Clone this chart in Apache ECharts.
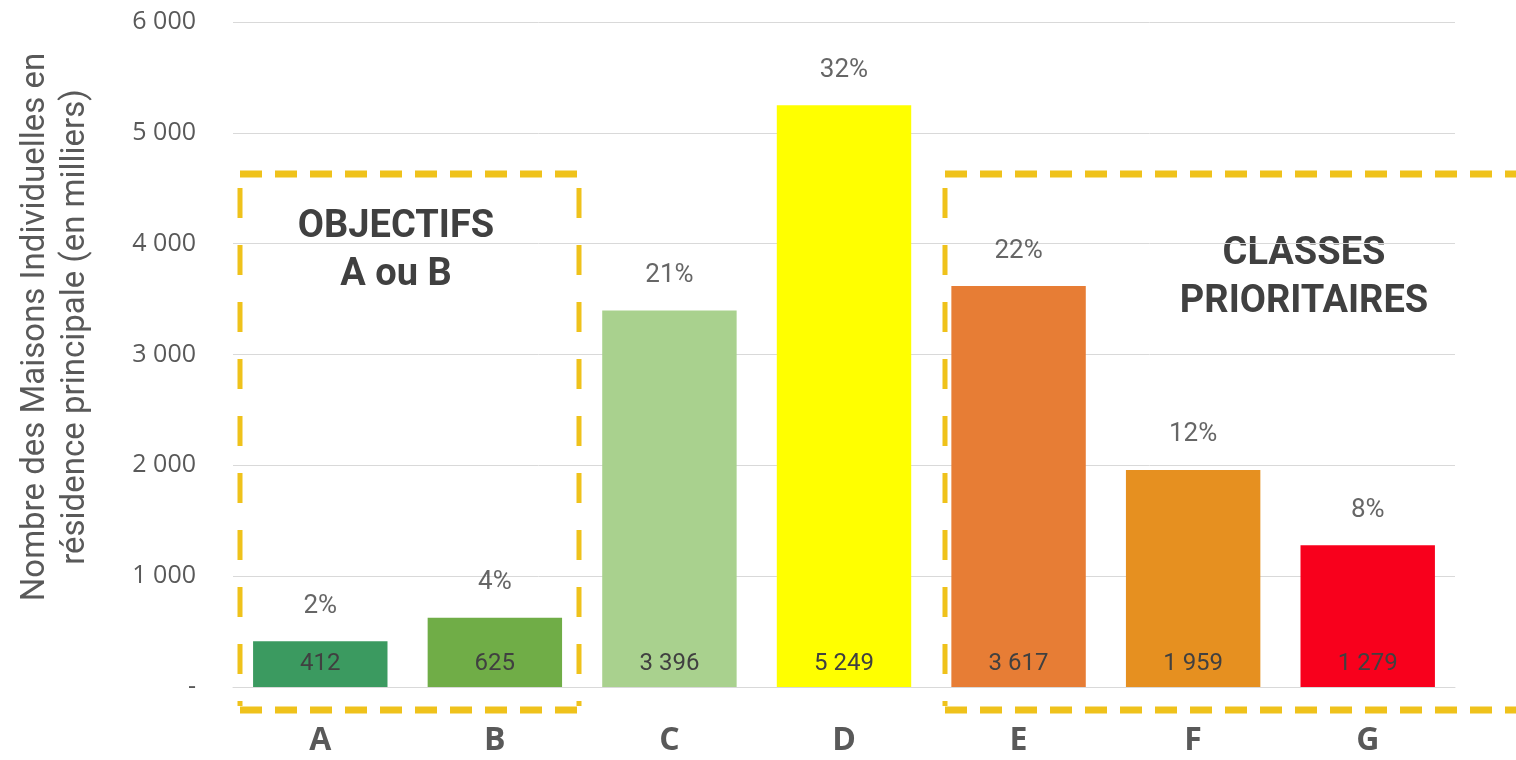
<!DOCTYPE html>
<html>
<head>
<meta charset="utf-8">
<script src="https://cdn.jsdelivr.net/npm/echarts@6/dist/echarts.min.js"></script>
<style>
  html, body { margin: 0; padding: 0; background: #ffffff; }
  #chart { width: 1516px; height: 760px; }
</style>
</head>
<body>
<div id="chart"></div>
<script>
// Energy classes (DPE) of individual houses used as main residence
const categories = ['A', 'B', 'C', 'D', 'E', 'F', 'G'];
// Number of houses, in thousands
const counts = [412, 625, 3396, 5249, 3617, 1959, 1279];
// Share of the total, in percent
const shares = [2, 4, 21, 32, 22, 12, 8];
const barColors = ['#3b9a60', '#70ad47', '#a9d18e', '#ffff00', '#e77d35', '#e69020', '#f8001c'];
const yTicks = { min: 0, max: 6000, interval: 1000 };
const yTitle = 'Nombre des Maisons Individuelles en\nrésidence principale (en milliers)';

const fmtThousands = v => String(v).replace(/\B(?=(\d{3})+(?!\d))/g, ' ');

const gold = '#efc21b';
const textFont = "'Roboto', sans-serif";

const chart = echarts.init(document.getElementById('chart'), null, { renderer: 'canvas' });

function hLine(x1, x2, y) {
  return {
    type: 'line', silent: true,
    shape: { x1: x1, y1: y, x2: x2, y2: y },
    style: { stroke: gold, lineWidth: 7, lineDash: [22, 13] }
  };
}
function vLine(x, y1, y2) {
  return {
    type: 'line', silent: true,
    shape: { x1: x, y1: y1, x2: x, y2: y2 },
    style: { stroke: gold, lineWidth: 5, lineDash: [30, 27], lineDashOffset: -8 }
  };
}
function boxText(text, x, y) {
  return {
    type: 'text', silent: true, x: x, y: y,
    style: {
      text: text, fill: '#404040', align: 'center', verticalAlign: 'middle',
      font: "bold 38px 'Roboto', sans-serif", lineHeight: 48
    }
  };
}

chart.setOption({
  animation: false,
  grid: { left: 233, right: 61, top: 22, bottom: 73, outerBoundsMode: 'none', containLabel: false },
  xAxis: {
    type: 'category',
    data: categories,
    axisLine: { show: true, lineStyle: { color: '#d9d9d9', width: 1 } },
    axisTick: { show: false },
    axisLabel: {
      color: '#595959', fontFamily: "'Open Sans', sans-serif", fontWeight: 'bold',
      fontSize: 32, margin: 38
    }
  },
  yAxis: {
    type: 'value',
    min: yTicks.min, max: yTicks.max, interval: yTicks.interval,
    axisLine: { show: false },
    axisTick: { show: false },
    splitLine: { lineStyle: { color: '#d9d9d9', width: 1 } },
    axisLabel: {
      color: '#595959', fontFamily: "'Open Sans', sans-serif", fontSize: 25, margin: 37,
      formatter: v => (v === 0 ? '-' : fmtThousands(v))
    }
  },
  series: [
    {
      type: 'bar',
      barCategoryGap: '23%',
      data: counts.map((v, i) => ({ value: v, itemStyle: { color: barColors[i] } })),
      label: {
        show: true, position: 'insideBottom', distance: 11,
        color: '#404040', fontFamily: textFont, fontSize: 24,
        formatter: p => fmtThousands(p.value)
      }
    },
    {
      type: 'scatter',
      symbolSize: 0,
      silent: true,
      data: counts,
      label: {
        show: true, position: 'top', distance: 22,
        color: '#404040', fontFamily: textFont, fontSize: 26,
        formatter: p => shares[p.dataIndex] + '%'
      },
      z: 5
    }
  ],
  graphic: [
    // Vertical axis title, two lines
    {
      type: 'text', silent: true, x: 56, y: 327, rotation: Math.PI / 2,
      style: {
        text: yTitle, fill: '#595959', align: 'center', verticalAlign: 'middle',
        font: "33px 'Roboto', sans-serif", lineHeight: 40
      }
    },
    // Box around the target classes A and B
    hLine(240, 580, 174),
    hLine(240, 580, 710),
    vLine(240, 180, 706),
    vLine(579, 180, 706),
    boxText('OBJECTIFS\nA ou B', 396, 251),
    // Box around the priority classes E, F and G
    hLine(945, 1516, 174),
    hLine(945, 1516, 710),
    vLine(945, 180, 706),
    boxText('CLASSES\nPRIORITAIRES', 1304, 278)
  ]
});
</script>
</body>
</html>
